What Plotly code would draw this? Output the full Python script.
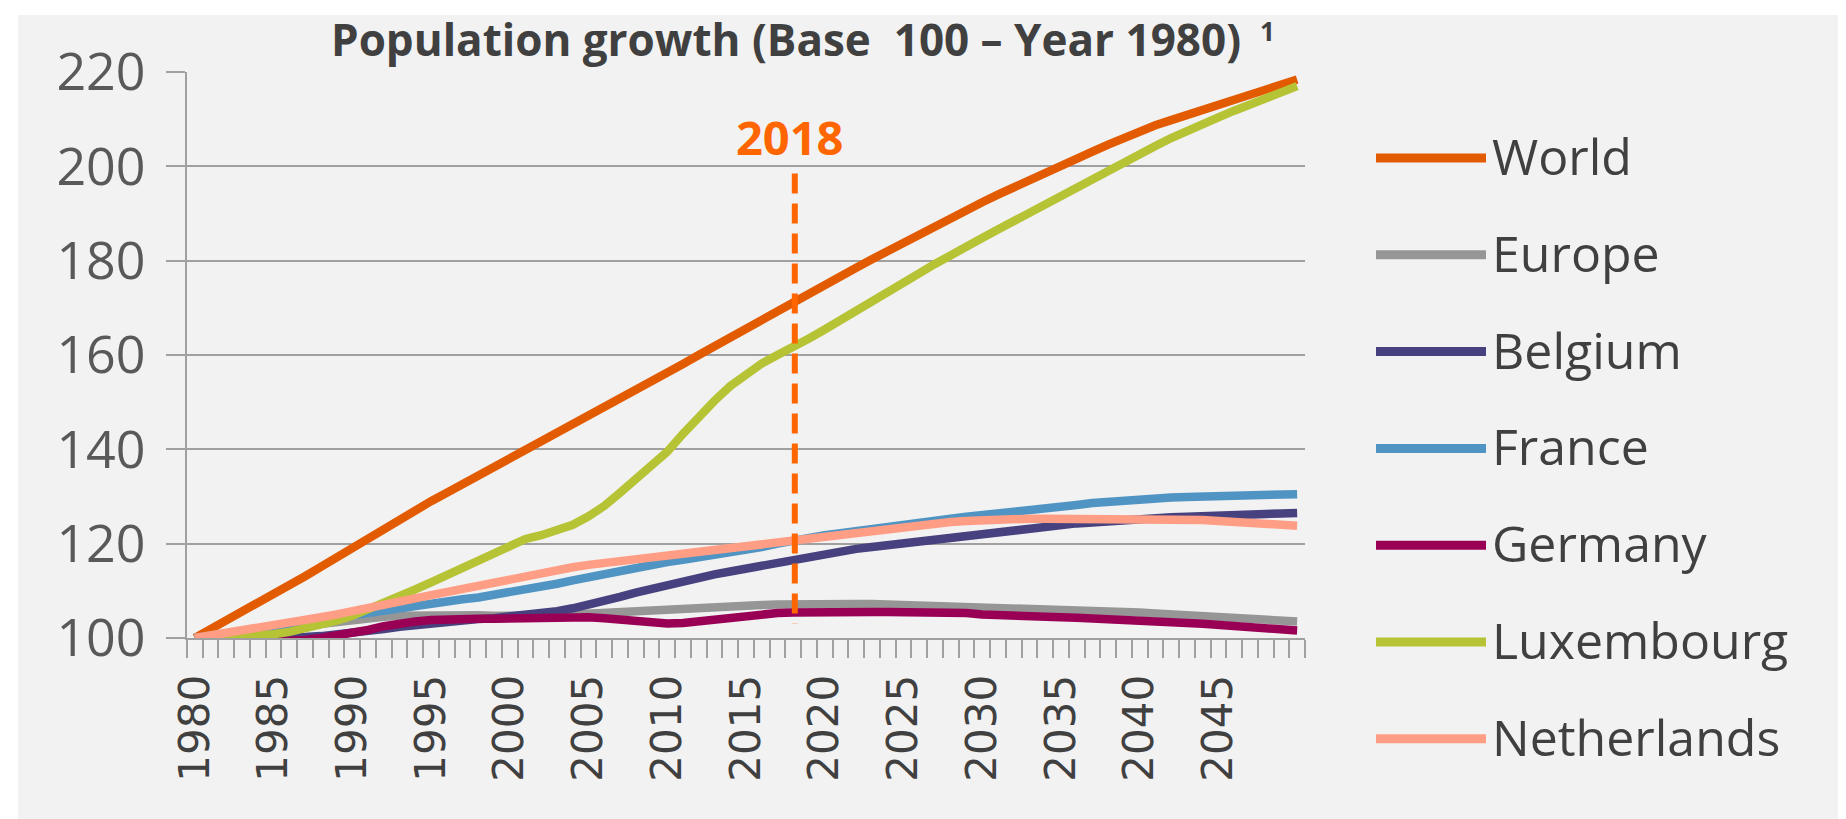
import plotly.graph_objects as go

years = list(range(1980, 2051))

world = [100.0, 101.8, 103.6, 105.4, 107.3, 109.2, 111.1, 113.1, 115.1, 117.1,
         119.4, 121.4, 123.3, 125.2, 127.1, 129.0, 130.8, 132.6, 134.4, 136.1,
         137.9, 139.6, 141.4, 143.2, 145.0, 146.8, 148.6, 150.5, 152.4, 154.3,
         156.2, 158.1, 160.0, 161.9, 163.8, 165.7, 167.6, 169.5, 171.3, 173.1,
         174.9, 176.7, 178.5, 180.3, 182.1, 183.9, 185.6, 187.3, 189.0, 190.7,
         192.4, 194.0, 195.6, 197.1, 198.6, 200.1, 201.6, 203.1, 204.6, 206.1,
         207.5, 208.7, 209.8, 210.9, 212.0, 213.1, 214.2, 215.2, 216.3, 217.4,
         218.4]
europe = [100.0, 100.4, 100.8, 101.2, 101.5, 101.9, 102.3, 102.7, 103.1, 103.5,
          103.9, 104.2, 104.5, 104.7, 104.8, 104.9, 104.9, 104.9, 104.8, 104.7,
          104.6, 104.6, 104.7, 104.8, 105.0, 105.1, 105.3, 105.5, 105.7, 105.9,
          106.0, 106.2, 106.4, 106.5, 106.7, 106.8, 107.0, 107.1, 107.2, 107.2,
          107.2, 107.2, 107.2, 107.2, 107.1, 107.1, 107.0, 107.0, 106.9, 106.9,
          106.8, 106.7, 106.6, 106.5, 106.4, 106.3, 106.1, 106.0, 105.8, 105.6,
          105.4, 105.2, 105.0, 104.8, 104.6, 104.4, 104.2, 104.0, 103.8, 103.6,
          103.5]
belgium = [100.0, 100.0, 99.9, 99.9, 99.9, 100.0, 100.1, 100.2, 100.4, 100.7,
           101.0, 101.5, 101.9, 102.4, 102.8, 103.2, 103.5, 103.8, 104.0, 104.2,
           104.5, 104.8, 105.2, 105.7, 106.3, 107.0, 107.8, 108.7, 109.6, 110.4,
           111.3, 112.2, 112.9, 113.5, 114.1, 114.7, 115.3, 115.9, 116.5, 117.3,
           118.0, 118.5, 118.9, 119.3, 119.7, 120.1, 120.5, 120.9, 121.4, 121.8,
           122.2, 122.6, 123.0, 123.4, 123.7, 124.0, 124.3, 124.5, 124.8, 125.0,
           125.2, 125.4, 125.6, 125.7, 125.9, 126.0, 126.1, 126.2, 126.3, 126.4,
           126.5]
france = [100.0, 100.5, 101.0, 101.5, 102.0, 102.5, 103.0, 103.5, 104.0, 104.6,
          105.1, 105.6, 106.1, 106.5, 106.9, 107.3, 107.8, 108.2, 108.6, 109.1,
          109.6, 110.2, 110.8, 111.5, 112.2, 112.9, 113.6, 114.3, 114.9, 115.5,
          116.1, 116.6, 117.1, 117.6, 118.0, 118.5, 119.3, 120.0, 120.7, 121.3,
          121.8, 122.2, 122.7, 123.2, 123.6, 124.1, 124.5, 124.9, 125.3, 125.7,
          126.0, 126.4, 126.8, 127.1, 127.5, 127.9, 128.2, 128.6, 128.9, 129.2,
          129.4, 129.6, 129.8, 129.9, 130.0, 130.1, 130.2, 130.3, 130.4, 130.5,
          130.5]
germany = [100.0, 99.9, 99.6, 99.3, 99.1, 99.2, 99.4, 99.6, 100.0, 100.5,
           101.0, 101.7, 102.5, 103.2, 103.5, 103.8, 104.0, 104.1, 104.1, 104.1,
           104.2, 104.4, 104.5, 104.5, 104.5, 104.4, 104.2, 103.9, 103.6, 103.3,
           103.1, 103.2, 103.6, 104.0, 104.4, 104.8, 105.1, 105.3, 105.4, 105.5,
           105.5, 105.5, 105.5, 105.5, 105.5, 105.5, 105.5, 105.4, 105.4, 105.3,
           105.0, 104.8, 104.7, 104.6, 104.5, 104.4, 104.3, 104.2, 104.0, 103.9,
           103.8, 103.6, 103.4, 103.2, 103.0, 102.8, 102.5, 102.3, 102.0, 101.8,
           101.6]
luxembourg = [100.0, 100.1, 100.2, 100.3, 100.5, 100.8, 101.3, 102.0, 102.8, 103.7,
              104.7, 106.0, 107.4, 108.8, 110.3, 111.8, 113.4, 115.0, 116.5, 118.0,
              119.5, 121.0, 121.8, 122.8, 124.0, 125.8, 128.0, 130.8, 133.6, 136.4,
              139.5, 143.3, 147.0, 150.3, 153.4, 156.0, 158.2, 160.0, 161.6, 163.5,
              165.4, 167.3, 169.3, 171.4, 173.3, 175.2, 177.3, 179.3, 181.3, 183.0,
              184.8, 186.6, 188.4, 190.3, 192.0, 194.0, 195.7, 197.3, 199.0, 200.8,
              202.6, 204.3, 206.0, 207.6, 209.0, 210.4, 211.8, 213.2, 214.6, 215.9,
              217.0]
netherlands = [100.0, 100.5, 101.0, 101.5, 102.0, 102.6, 103.2, 103.8, 104.4, 105.0,
               105.6, 106.3, 107.0, 107.7, 108.4, 109.1, 109.8, 110.5, 111.2, 111.8,
               112.4, 113.1, 113.8, 114.4, 115.0, 115.5, 115.9, 116.3, 116.7, 117.2,
               117.7, 118.2, 118.6, 119.0, 119.4, 119.8, 120.2, 120.6, 121.0, 121.4,
               121.8, 122.2, 122.6, 123.0, 123.3, 123.7, 124.0, 124.3, 124.6, 124.8,
               125.0, 125.1, 125.2, 125.3, 125.3, 125.3, 125.3, 125.3, 125.3, 125.3,
               125.3, 125.3, 125.2, 125.1, 125.0, 124.8, 124.6, 124.4, 124.2, 124.0,
               123.8]

series_names = ["World", "Europe", "Belgium", "France", "Germany", "Luxembourg", "Netherlands"]
series_values = [world, europe, belgium, france, germany, luxembourg, netherlands]
series_colors = ["#E35B00", "#969696", "#47427F", "#5094C4", "#990055", "#B6C335", "#FF9E85"]

y_ticks = [100, 120, 140, 160, 180, 200, 220]
y_grid = [120, 140, 160, 180, 200]
x_label_years = list(range(1980, 2050, 5))
x_labels = [str(y) for y in x_label_years]

MARK_YEAR = 2018
MARK_LABEL = "2018"
TITLE = "Population growth (Base  100 \u2013 Year 1980)"
TITLE_NOTE = "1"

# ---- geometry (pixels) ----
W, H = 1846, 819
L, R, T, B = 179, 1846 - 1297, 64, 819 - 630
PW, PH = W - L - R, H - T - B


def px(xp):
    return (xp - L) / PW


def py(yp):
    return (H - B - yp) / PH


AXIS_GRAY = "#A0A0A0"
TEXT = "#404040"

fig = go.Figure()
for name, vals, col in zip(series_names, series_values, series_colors):
    fig.add_trace(go.Scatter(x=years, y=vals, mode="lines", name=name,
                             line=dict(color=col, width=8.5), showlegend=False,
                             hoverinfo="skip"))

shapes = []
annotations = []

# 2018 dashed marker (drawn top -> bottom so the dash pattern starts at the top)
shapes.append(dict(type="line", xref="x", yref="y", x0=MARK_YEAR + 0.1, x1=MARK_YEAR + 0.1,
                   y0=198.5, y1=103.0, line=dict(color="#FF6600", width=6, dash="20px,10px")))
annotations.append(dict(xref="x", yref="paper", x=MARK_YEAR - 0.2, y=py(129), text=MARK_LABEL,
                        showarrow=False, xanchor="center", yanchor="middle",
                        font=dict(family="Open Sans", size=47, color="#FF6600", weight="bold")))

# title
annotations.append(dict(xref="paper", yref="paper", x=px(322), y=py(31),
                        text=TITLE, showarrow=False, borderpad=0,
                        xanchor="left", yanchor="middle",
                        font=dict(family="Open Sans", size=44, color=TEXT, weight="bold")))
annotations.append(dict(xref="paper", yref="paper", x=px(1251), y=py(23),
                        text=TITLE_NOTE, showarrow=False, borderpad=0,
                        xanchor="left", yanchor="middle",
                        font=dict(family="Open Sans", size=26, color=TEXT, weight="bold")))

# custom legend
for i, (name, col) in enumerate(zip(series_names, series_colors)):
    yl = 150 + 96.8 * i
    shapes.append(dict(type="line", xref="paper", yref="paper", x0=px(1368), x1=px(1478),
                       y0=py(yl), y1=py(yl), line=dict(color=col, width=9)))
    annotations.append(dict(xref="paper", yref="paper", x=px(1482), y=py(yl - 2), text=name,
                            showarrow=False, xanchor="left", yanchor="middle",
                            font=dict(family="Open Sans", size=50, color=TEXT)))

# white frame strips (top & left)
shapes.append(dict(type="rect", xref="paper", yref="paper", x0=px(0), x1=px(W), y0=py(7), y1=py(0),
                   fillcolor="white", line=dict(width=0), layer="below"))
shapes.append(dict(type="rect", xref="paper", yref="paper", x0=px(0), x1=px(10), y0=py(H), y1=py(0),
                   fillcolor="white", line=dict(width=0), layer="below"))

fig.update_layout(
    width=W, height=H,
    margin=dict(l=L, r=R, t=T, b=B, pad=0),
    paper_bgcolor="#F2F2F2", plot_bgcolor="#F2F2F2",
    showlegend=False, hovermode=False,
    shapes=shapes, annotations=annotations,
    xaxis=dict(range=[1979.5, 2050.5], showgrid=False, zeroline=False,
               showline=True, linecolor=AXIS_GRAY, linewidth=2,
               tickmode="array", tickvals=x_label_years, ticktext=x_labels,
               ticks="", tickangle=-90, ticklabelstandoff=18,
               tickfont=dict(family="DejaVu Sans", size=42, color=TEXT),
               minor=dict(tick0=1979.5, dtick=1, ticks="outside", ticklen=18,
                          tickwidth=2, tickcolor=AXIS_GRAY, showgrid=False)),
    yaxis=dict(range=[100, 220], showgrid=False, zeroline=False,
               showline=True, linecolor=AXIS_GRAY, linewidth=2,
               tickmode="array", tickvals=y_ticks,
               ticks="outside", ticklen=19, tickwidth=2, tickcolor=AXIS_GRAY,
               ticklabelstandoff=10,
               tickfont=dict(family="Open Sans", size=52, color="#595959"),
               minor=dict(tickmode="array", tickvals=y_grid, ticks="", showgrid=True,
                          gridcolor=AXIS_GRAY, gridwidth=2)),
)

fig.write_html("out.html")
